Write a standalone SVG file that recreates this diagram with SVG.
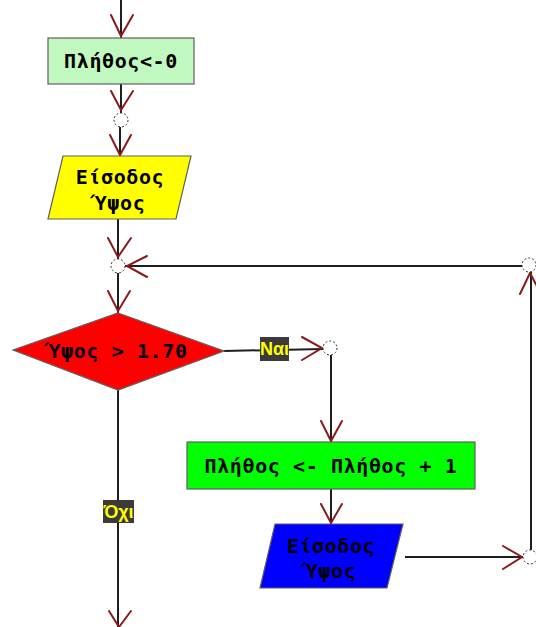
<svg xmlns="http://www.w3.org/2000/svg" width="536" height="627" viewBox="0 0 536 627">
<style>
.ln{stroke:#1e1e1e;stroke-width:2;fill:none}
.ah{stroke:#8b1a1a;stroke-width:2;fill:none;stroke-linecap:round}
.jn{fill:#fff;stroke:#333;stroke-width:1;stroke-dasharray:2 2}
.bx{stroke:#606060;stroke-width:1.2}
.t{font-family:"DejaVu Sans Mono","Liberation Mono",monospace;font-weight:bold;font-size:20px;letter-spacing:0.6px;fill:#000;text-anchor:middle}
.lb{fill:#3a3a3a}
.lt{font-family:"Liberation Sans",Arial,sans-serif;font-weight:bold;font-size:18px;fill:#ffff00;text-anchor:middle}
</style>
<rect width="536" height="627" fill="#fff"/>
<g id="connectors">
  <line class="ln" x1="121" y1="0" x2="121" y2="38"/>
  <polyline class="ah" points="111,15 121,36 133,15"/>
  <line class="ln" x1="121" y1="84" x2="121" y2="113"/>
  <polyline class="ah" points="111,91 121,110 133,91"/>
  <line class="ln" x1="120" y1="127" x2="120" y2="156"/>
  <polyline class="ah" points="110,135 120,155 131,135"/>
  <line class="ln" x1="118" y1="219" x2="118" y2="259"/>
  <polyline class="ah" points="108,238 118,257 131,238"/>
  <line class="ln" x1="522" y1="266" x2="125" y2="266"/>
  <polyline class="ah" points="147,256 127,266 147,277"/>
  <line class="ln" x1="118" y1="273" x2="118" y2="313"/>
  <polyline class="ah" points="108,291 118,311 130,291"/>
  <line class="ln" x1="224" y1="351" x2="323" y2="349"/>
  <polyline class="ah" points="302,337 322,348 302,360"/>
  <line class="ln" x1="331" y1="355" x2="331" y2="442"/>
  <polyline class="ah" points="321,421 331,441 342,421"/>
  <line class="ln" x1="331" y1="489" x2="331" y2="524"/>
  <polyline class="ah" points="321,504 331,523 342,504"/>
  <line class="ln" x1="405" y1="557" x2="523" y2="557"/>
  <polyline class="ah" points="503,546 522,557 503,569"/>
  <line class="ln" x1="531" y1="550" x2="531" y2="272"/>
  <polyline class="ah" points="520,294 530,273 541,294"/>
  <line class="ln" x1="118" y1="390" x2="118" y2="627"/>
  <polyline class="ah" points="109,611 119,627 131,611"/>
  <g id="label-yes">
    <rect class="lb" x="260" y="337" width="29" height="24"/>
    <text class="lt" x="274.5" y="355">Ναι</text>
  </g>
  <g id="label-no">
    <rect class="lb" x="103" y="500" width="31" height="23"/>
    <text class="lt" x="118.5" y="518">Όχι</text>
  </g>
</g>
<g id="init">
  <rect class="bx" x="48" y="38" width="146" height="46" fill="#c0f8c0"/>
  <text class="t" x="121" y="68">Πλήθος&lt;-0</text>
</g>
<g id="j1"><circle class="jn" cx="121" cy="120" r="7"/></g>
<g id="input1">
  <polygon class="bx" points="63,156 191,156 176,219 48,219" fill="#ffff00"/>
  <text class="t" x="120" y="184">Είσοδος</text>
  <text class="t" x="120" y="210">Ύψος</text>
</g>
<g id="j2"><circle class="jn" cx="118" cy="266" r="7"/></g>
<g id="j3"><circle class="jn" cx="529" cy="265" r="7"/></g>
<g id="cond">
  <polygon class="bx" points="118,313 224,351 118,390 13,350" fill="#ff0000"/>
  <text class="t" x="118" y="358">Ύψος &gt; 1.70</text>
</g>
<g id="j4"><circle class="jn" cx="330" cy="348" r="7"/></g>
<g id="incr">
  <rect class="bx" x="187" y="442" width="288" height="47" fill="#00ff00"/>
  <text class="t" x="331" y="473">Πλήθος &lt;- Πλήθος + 1</text>
</g>
<g id="input2">
  <polygon class="bx" points="275,524 403,524 387,588 260,588" fill="#0000ff"/>
  <text class="t" x="331" y="553">Είσοδος</text>
  <text class="t" x="331" y="578">Ύψος</text>
</g>
<g id="j5"><circle class="jn" cx="530" cy="557" r="7"/></g>
</svg>
